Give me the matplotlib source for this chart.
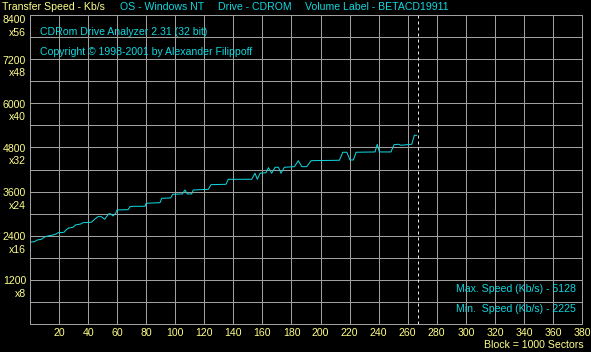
import matplotlib
matplotlib.use('Agg')
import matplotlib.pyplot as plt

plt.rcParams['font.family'] = ['Liberation Sans', 'DejaVu Sans']

# transfer curve (block no. x1000 sectors, Kb/s)
block = [0, 3.2, 5.0, 7.8, 10.1, 12.4, 15.8, 18.1, 19.3, 23.4, 25.0, 26.6, 29.6,
         31.2, 34.9, 36.5, 42.2, 44.5, 46.8, 49.1, 51.4, 53.2, 54.4, 55.6, 57.1,
         59.0, 59.9, 67.5, 68.9, 70.9, 79.2, 79.9, 89.5, 90.7, 96.9, 98.2, 104.9,
         106.7, 108.3, 111.3, 112.4, 122.8, 124.6, 134.9, 136.5, 152.6, 154.9,
         156.5, 158.4, 162.5, 164.1, 166.4, 168.7, 171.0, 172.8, 175.1, 182.0,
         184.7, 187.1, 190.5, 193.5, 213.0, 215.3, 218.1, 220.3, 222.6, 224.5,
         237.5, 239.1, 240.5, 248.5, 250.6, 253.6, 255.4, 262.8, 264.6, 266.2]
speed = [2225, 2238, 2284, 2303, 2366, 2393, 2420, 2447, 2482, 2493, 2564, 2610, 2629,
         2692, 2719, 2754, 2765, 2847, 2918, 2918, 2847, 2945, 2999, 2991, 2937,
         3010, 3100, 3108, 3189, 3200, 3200, 3282, 3298, 3418, 3426, 3527, 3535,
         3643, 3535, 3535, 3643, 3662, 3788, 3798, 3934, 3934, 4098,
         3934, 4098, 4114, 4250, 4098, 4261, 4261, 4098, 4261, 4277,
         4440, 4277, 4277, 4440, 4451, 4669, 4669, 4459, 4459, 4669,
         4677, 4886, 4677, 4677, 4875, 4886, 4859, 4886, 5131, 5128]
end_block = 267.3
x_ticks = list(range(20, 381, 20))
y_labels = [1200, 2400, 3600, 4800, 6000, 7200, 8400]
cd_speed = ['x8', 'x16', 'x24', 'x32', 'x40', 'x48', 'x56']

YEL = '#ffff88'
CYAN = '#10d8e0'
GRID = '#a0a0a0'
W, H = 591, 352
FS = 10.5

fig = plt.figure(figsize=(W / 72, H / 72), dpi=72, facecolor='black')
ax = fig.add_axes([30 / W, 28 / H, 552 / W, 309 / H], facecolor='black')

ax.plot(block, speed, color=CYAN, lw=1)
ax.axvline(end_block, color='#e8e8e8', lw=1, ls=(0, (3, 3)))

ax.set_xlim(0, 380)
ax.set_ylim(0, 8400)
ax.set_xticks(range(0, 381, 20))
ax.set_yticks(range(0, 8401, 600))
ax.grid(True, color=GRID, lw=1)
ax.set_axisbelow(True)
for s in ax.spines.values():
    s.set_color(GRID)
    s.set_linewidth(1)
ax.tick_params(length=0, pad=4, labelsize=FS, colors=YEL)
ax.set_xticklabels([''] + [str(t) for t in x_ticks])
ax.set_yticklabels([])

ytr = ax.get_yaxis_transform()
for v, m in zip(y_labels, cd_speed):
    dy = -5 if v == 8400 else -1.5
    ax.annotate(str(v), xy=(0, v), xycoords=ytr, xytext=(-4, dy), textcoords='offset points',
                ha='right', va='center', color=YEL, fontsize=FS)
    ax.annotate(m, xy=(0, v), xycoords=ytr, xytext=(-4, dy - 12.5), textcoords='offset points',
                ha='right', va='center', color=YEL, fontsize=FS)


def put(x, y, s, c, ha='left'):
    fig.text(x / W, 1 - y / H, s, color=c, fontsize=FS, ha=ha, va='center')


put(2, 7.5, 'Transfer Speed - Kb/s', YEL)
put(120, 7.5, 'OS - Windows NT', CYAN)
put(218, 7.5, 'Drive - CDROM', CYAN)
put(305, 7.5, 'Volume Label - BETACD19911', CYAN)
put(40, 32, 'CDRom Drive Analyzer 2.31 (32 bit)', CYAN)
put(40, 52, 'Copyright \u00a9 1998-2001 by Alexander Filippoff', CYAN)
put(576, 289, 'Max. Speed (Kb/s) - 5128', CYAN, ha='right')
put(576, 309, 'Min.  Speed (Kb/s) - 2225', CYAN, ha='right')
put(584, 345.5, 'Block = 1000 Sectors', YEL, ha='right')

fig.savefig('out.png', dpi=72, facecolor='black')
